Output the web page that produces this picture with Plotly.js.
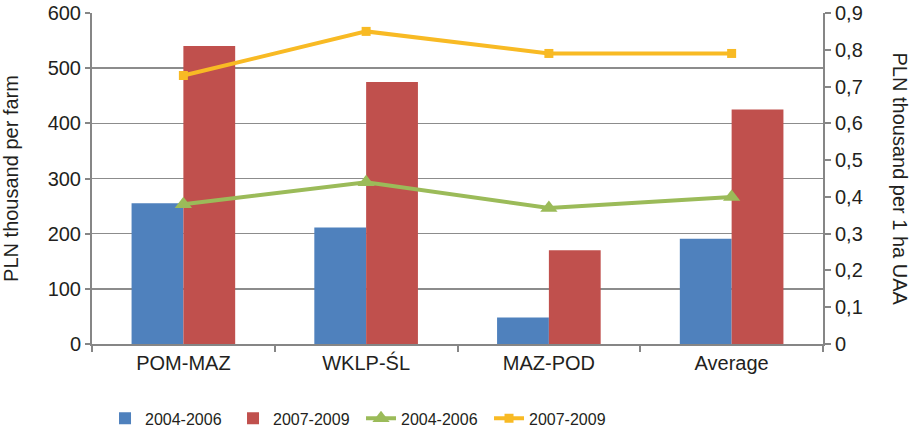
<!DOCTYPE html>
<html>
<head>
<meta charset="utf-8">
<script src="https://cdn.plot.ly/plotly-3.0.1.min.js"></script>
<style>html,body{margin:0;padding:0;background:#fff;}#chart{width:909px;height:427px;}</style>
</head>
<body>
<div id="chart"></div>
<script>
const categories = ["POM-MAZ", "WKLP-ŚL", "MAZ-POD", "Average"];
const perFarm2004 = [255, 211, 48, 191];
const perFarm2007 = [540, 475, 170, 425];
const perHa2004 = [0.38, 0.44, 0.37, 0.40];
const perHa2007 = [0.73, 0.85, 0.79, 0.79];
const seriesNames = ["2004-2006", "2007-2009", "2004-2006", "2007-2009"];
const rightTickVals = [0, 0.1, 0.2, 0.3, 0.4, 0.5, 0.6, 0.7, 0.8, 0.9];
const rightTickText = ["0", "0,1", "0,2", "0,3", "0,4", "0,5", "0,6", "0,7", "0,8", "0,9"];

const font = "Liberation Sans, Arial, sans-serif";
const textColor = "#231f20";
const axisGray = "#868686";

const traces = [
  {type: "bar", x: categories, y: perFarm2004, name: seriesNames[0],
   marker: {color: "#4f81bd"}},
  {type: "bar", x: categories, y: perFarm2007, name: seriesNames[1],
   marker: {color: "#c0504d"}},
  {type: "scatter", mode: "lines+markers", x: categories, y: perHa2004, name: seriesNames[2],
   yaxis: "y2", line: {color: "#9bbb59", width: 4},
   marker: {symbol: "triangle-up", size: 15, color: "#9bbb59"}},
  {type: "scatter", mode: "lines+markers", x: categories, y: perHa2007, name: seriesNames[3],
   yaxis: "y2", line: {color: "#f8ba24", width: 4},
   marker: {symbol: "square", size: 9, color: "#f8ba24"}}
];

const layout = {
  width: 909, height: 427,
  margin: {l: 92, r: 86, t: 13, b: 82.5, pad: 0, autoexpand: false},
  paper_bgcolor: "#fff", plot_bgcolor: "#fff",
  font: {family: font, size: 20, color: textColor},
  separators: ", ",
  barmode: "group", bargap: 0.433, bargroupgap: 0,
  showlegend: true,
  legend: {orientation: "h", x: (111 - 92 - 6) / 730, xanchor: "left", y: -0.2247, yanchor: "middle",
           font: {family: font, size: 16, color: textColor},
           traceorder: "normal",
           entrywidth: 83, entrywidthmode: "pixels", tracegroupgap: 0},
  xaxis: {type: "category", showline: true, linecolor: axisGray, linewidth: 2,
          ticks: "outside", tickson: "boundaries", ticklen: 6, tickcolor: axisGray, tickwidth: 2,
          tickfont: {size: 20}, showgrid: false, zeroline: false, fixedrange: true},
  yaxis: {range: [0, 600], dtick: 100, showline: true, linecolor: axisGray, linewidth: 2,
          ticks: "outside", ticklen: 5, tickcolor: axisGray, tickwidth: 2,
          showgrid: true, gridcolor: "#8c8c8c", gridwidth: 1.5, zeroline: false,
          tickfont: {size: 20}, automargin: false,
          title: {text: "PLN thousand per farm", font: {size: 20}, standoff: 25}},
  yaxis2: {overlaying: "y", side: "right", range: [0, 0.9],
           tickvals: rightTickVals, ticktext: rightTickText,
           showline: true, linecolor: axisGray, linewidth: 2,
           ticks: "outside", ticklen: 6, tickcolor: axisGray, tickwidth: 2,
           showgrid: false, zeroline: false, tickfont: {size: 20}, automargin: false},
  annotations: [
    {text: "PLN thousand per 1 ha UAA", xref: "paper", yref: "paper",
     x: 1, xshift: 77, y: 0.5, xanchor: "center", yanchor: "middle",
     textangle: 90, showarrow: false, font: {size: 20, color: textColor}}
  ]
};

Plotly.newPlot("chart", traces, layout, {displayModeBar: false, staticPlot: true});
</script>
</body>
</html>
